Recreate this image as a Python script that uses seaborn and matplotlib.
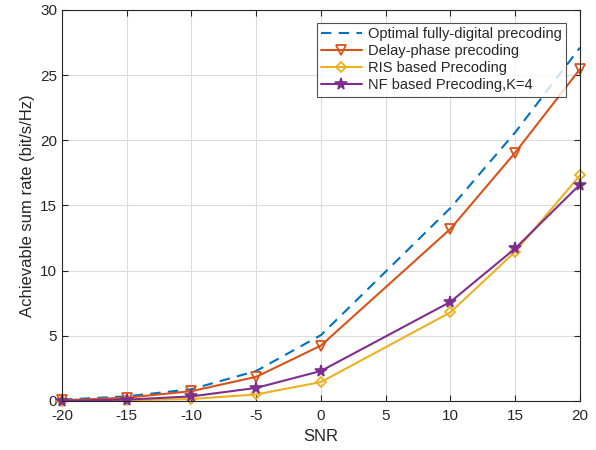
import matplotlib
matplotlib.use("Agg")
import matplotlib.pyplot as plt
import seaborn as sns
import pandas as pd

snr = [-20, -15, -10, -5, 0, 10, 15, 20]
optimal = [0.1, 0.35, 0.9, 2.3, 5.05, 14.8, 20.6, 27.1]
delay_phase = [0.05, 0.25, 0.75, 1.85, 4.25, 13.2, 19.05, 25.45]
ris = [0.0, 0.05, 0.15, 0.5, 1.45, 6.8, 11.45, 17.3]
nf = [0.02, 0.1, 0.35, 1.0, 2.3, 7.6, 11.7, 16.6]

labels = ["Optimal fully-digital precoding", "Delay-phase precoding",
          "RIS based Precoding", "NF based Precoding,K=4"]

sns.set_style("white")
plt.rcParams['font.family'] = ['Liberation Sans', 'DejaVu Sans']
plt.rcParams['axes.unicode_minus'] = False

fig = plt.figure(figsize=(5.96, 4.5), dpi=100)
ax = fig.add_axes([0.104, 0.109, 0.869, 0.869])

colors = ["#0072BD", "#D95319", "#EDB120", "#7E2F8E"]
series = [optimal, delay_phase, ris, nf]
styles = [
    dict(linestyle=(0, (5, 3.5)), marker=None),
    dict(linestyle='-', marker='v', markersize=7.5, markerfacecolor='none', markeredgewidth=1.3),
    dict(linestyle='-', marker='D', markersize=5.5, markerfacecolor='none', markeredgewidth=1.3),
    dict(linestyle='-', marker='*', markersize=8.5, markeredgewidth=1.2),
]
for vals, lab, col, st in zip(series, labels, colors, styles):
    df = pd.DataFrame({"SNR": snr, "rate": vals})
    sns.lineplot(data=df, x="SNR", y="rate", ax=ax, color=col, label=lab,
                 linewidth=1.5, markeredgecolor=col, clip_on=False, **st)

ax.set_xlim(-20, 20)
ax.set_ylim(0, 30)
ax.set_xticks(range(-20, 21, 5))
ax.set_yticks(range(0, 31, 5))
ax.grid(True, color='#dcdcdc', linewidth=0.8)
ax.set_axisbelow(True)
for s in ax.spines.values():
    s.set_color('#262626')
    s.set_linewidth(0.8)
ax.tick_params(direction='in', length=4, labelsize=11, colors='#262626',
               top=True, right=True, bottom=True, left=True)
ax.tick_params(axis='x', pad=6)
ax.set_xlabel("SNR", fontsize=12, color='#262626')
ax.set_ylabel("Achievable sum rate (bit/s/Hz)", fontsize=12, color='#262626')

leg = ax.legend(loc='upper right', bbox_to_anchor=(0.987, 0.985), fontsize=10.5,
                frameon=True, fancybox=False, edgecolor='#262626',
                handlelength=2.8, borderpad=0.3, labelspacing=0.2,
                handletextpad=0.4)
leg.get_frame().set_linewidth(0.8)

fig.savefig("out.png", dpi=100)
